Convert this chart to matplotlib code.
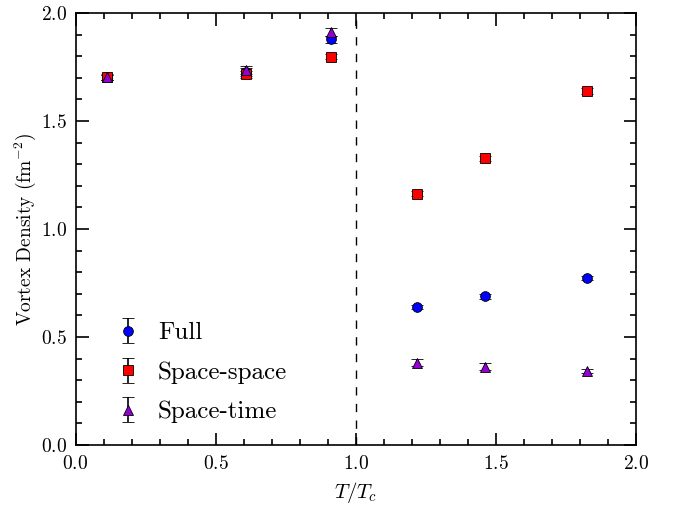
import matplotlib
matplotlib.use('Agg')
import matplotlib.pyplot as plt
from matplotlib.ticker import MultipleLocator

plt.rcParams['font.family'] = ['cmr10', 'DejaVu Serif']
plt.rcParams['mathtext.fontset'] = 'cm'
plt.rcParams['axes.unicode_minus'] = False
plt.rcParams['axes.formatter.use_mathtext'] = True

# Datos
t_tc = [0.112, 0.608, 0.911, 1.217, 1.461, 1.826]

full = [1.703, 1.726, 1.878, 0.640, 0.688, 0.774]
full_err = [0.012, 0.018, 0.015, 0.010, 0.012, 0.010]

space_space = [1.704, 1.716, 1.798, 1.163, 1.328, 1.639]
ss_err = [0.012, 0.015, 0.012, 0.012, 0.012, 0.012]

space_time = [1.703, 1.736, 1.912, 0.381, 0.363, 0.342]
st_err = [0.012, 0.020, 0.020, 0.015, 0.018, 0.010]

fig = plt.figure(figsize=(6.78, 5.08), dpi=100)
ax = fig.add_axes([75.5 / 678, 63 / 508, 560.5 / 678, 432 / 508])

estilo = dict(linestyle='none', ecolor='black', elinewidth=1.2, capsize=4.3,
              capthick=1.2, markeredgecolor='black', markeredgewidth=0.6, markersize=7)

ax.errorbar(t_tc, full, yerr=full_err, marker='o', color='blue', label='Full', **estilo)
ax.errorbar(t_tc, space_space, yerr=ss_err, marker='s', color='red', label='Space-space', **estilo)
ax.errorbar(t_tc, space_time, yerr=st_err, marker='^', color='darkviolet', label='Space-time', **estilo)

ax.axvline(1.0, color='black', linestyle='--', dashes=(6, 6), linewidth=1)

ax.set_xlim(0, 2)
ax.set_ylim(0, 2)
ax.xaxis.set_major_locator(MultipleLocator(0.5))
ax.xaxis.set_minor_locator(MultipleLocator(0.1))
ax.yaxis.set_major_locator(MultipleLocator(0.5))
ax.yaxis.set_minor_locator(MultipleLocator(0.1))
ax.tick_params(which='both', direction='in', top=True, right=True, labelsize=14, width=1.2)
ax.tick_params(which='major', length=9, pad=7)
ax.tick_params(which='minor', length=4)
ax.tick_params(axis='y', which='major', pad=6)
for s in ax.spines.values():
    s.set_linewidth(1.2)

ax.set_xlabel(r'$T/T_c$', fontsize=15, labelpad=5)
ax.set_ylabel(r'Vortex Density (fm$^{-2}$)', fontsize=14, labelpad=2)

ax.legend(loc='lower left', bbox_to_anchor=(0.067, 0.05), borderaxespad=0, borderpad=0,
          frameon=False, fontsize=18, handlelength=1.2, handletextpad=0.6,
          labelspacing=0.68, numpoints=1)

plt.savefig('out.png', dpi=100)
